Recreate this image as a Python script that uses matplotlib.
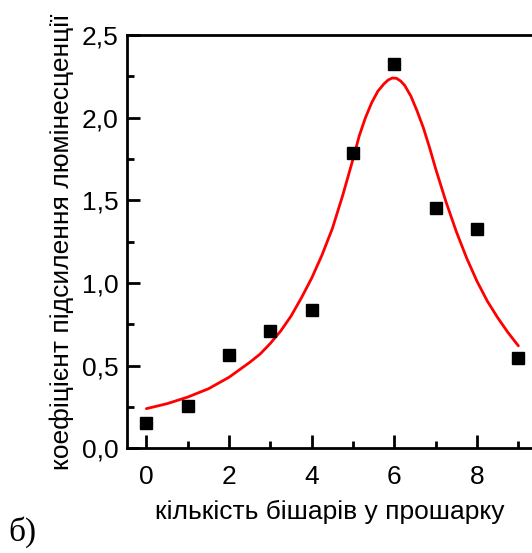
import matplotlib.pyplot as plt
from matplotlib.ticker import MultipleLocator, FixedLocator

# Measured points
layers = [0, 1, 2, 3, 4, 5, 6, 7, 8, 9]
gain = [0.155, 0.256, 0.564, 0.71, 0.835, 1.787, 2.323, 1.452, 1.328, 0.548]

# Fit curve
fit_x = [0, 0.5, 1, 1.5, 2, 2.5, 2.75, 3, 3.25, 3.5, 3.75, 4, 4.25, 4.5, 4.75, 5,
         5.15, 5.3, 5.45, 5.6, 5.75, 5.85, 5.95, 6.05, 6.15, 6.25, 6.4, 6.55,
         6.7, 6.85, 7, 7.25, 7.5, 7.75, 8, 8.25, 8.5, 8.75, 9]
fit_y = [0.24, 0.27, 0.31, 0.36, 0.43, 0.52, 0.57, 0.635, 0.71, 0.80, 0.91, 1.03,
         1.17, 1.33, 1.53, 1.75, 1.89, 2.00, 2.09, 2.16, 2.205, 2.228, 2.24, 2.238,
         2.222, 2.195, 2.13, 2.04, 1.94, 1.82, 1.69, 1.49, 1.31, 1.15, 1.01, 0.89,
         0.79, 0.70, 0.62]

xticks = [0, 2, 4, 6, 8]
yticks = [0.0, 0.5, 1.0, 1.5, 2.0, 2.5]
ytick_labels = ["0,0", "0,5", "1,0", "1,5", "2,0", "2,5"]

plt.rcParams['font.family'] = ['Liberation Sans', 'DejaVu Sans']

fig = plt.figure(figsize=(5.32, 5.53), dpi=100)
ax = fig.add_axes([0.2387, 0.1893, 0.7613, 0.7474])

ax.plot(fit_x, fit_y, color="red", linewidth=2.0, zorder=2,
        solid_joinstyle="round", solid_capstyle="round")
ax.plot(layers, gain, linestyle="none", marker="s", markersize=8.6, color="black", zorder=3)

ax.set_xlim(-0.47, 9.33)
ax.set_ylim(0, 2.5)

ax.xaxis.set_major_locator(FixedLocator(xticks))
ax.xaxis.set_minor_locator(MultipleLocator(1))
ax.yaxis.set_major_locator(FixedLocator(yticks))
ax.yaxis.set_minor_locator(MultipleLocator(0.25))
ax.set_yticklabels(ytick_labels)

ax.spines["right"].set_visible(False)
for s in ["left", "bottom", "top"]:
    ax.spines[s].set_linewidth(2.0)

ax.tick_params(which="both", direction="in", width=2.0, labelsize=19, top=False, right=False)
ax.tick_params(axis="y", which="major", length=9.5, pad=6)
ax.tick_params(axis="x", which="major", length=9.5, pad=12)
ax.tick_params(which="minor", length=5)

ax.set_xlabel("кількість бішарів у прошарку", fontsize=19, labelpad=8)
ax.set_ylabel("коефіцієнт підсилення люмінесценції", fontsize=19, labelpad=6)

fig.text(0.015, 0.022, "б)", fontsize=24, family="Liberation Serif")

fig.savefig("out.png", dpi=100)
